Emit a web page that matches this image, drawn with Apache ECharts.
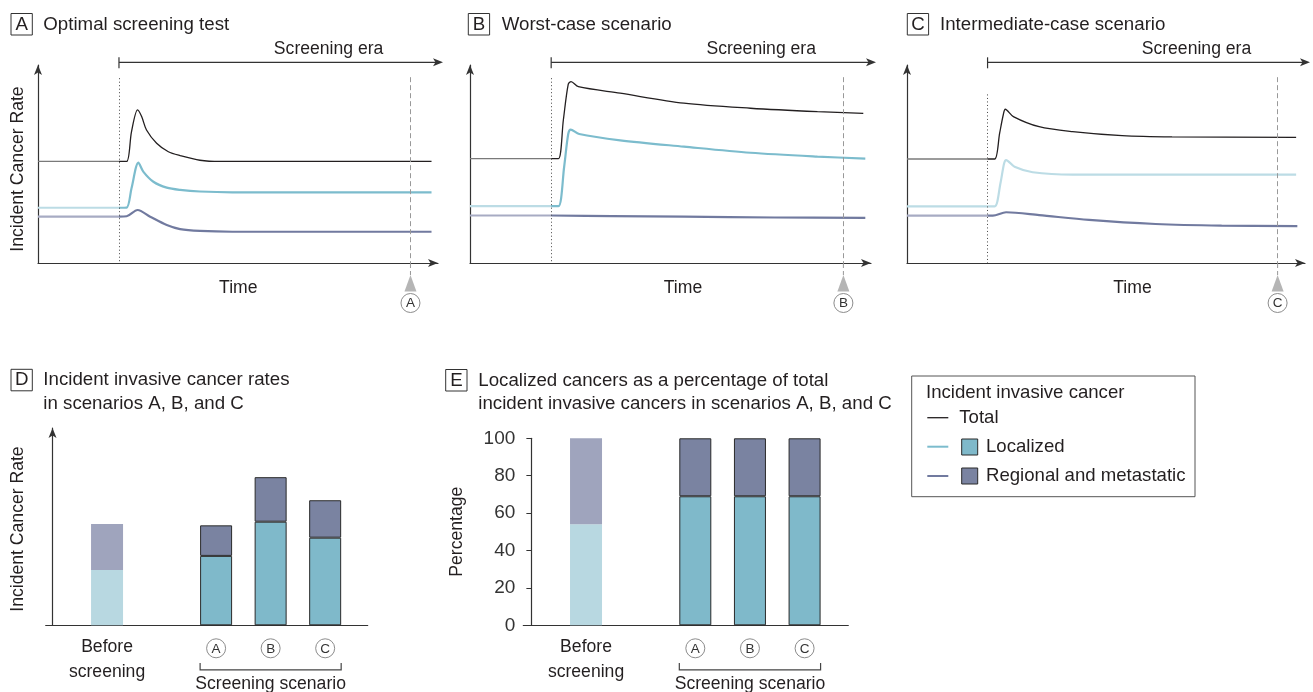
<!DOCTYPE html>
<html><head><meta charset="utf-8">
<script src="https://cdn.jsdelivr.net/npm/echarts@6/dist/echarts.min.js"></script>
<style>html,body{margin:0;padding:0;background:#fff}#c{width:1313px;height:692px}</style>
</head><body><div id="c"></div>
<script>
// ---------------- DATA ----------------
// Panels A-C: [time, incident rate] (arbitrary units)
const SCREEN_START = 20;   // start of screening era (time)
const REVIEW_TIME = 92;    // time at which scenarios are compared (dashed line)

const A_total = [[0,50],[20,50],[21.9,50],[23.1,64.7],[24.6,75.4],[25.6,72.1],[26.8,65.5],[29.3,59],[32.2,54.8],[35.1,52.9],[40,50.6],[45,50],[97.2,50]];
const A_localized = [[0,27.2],[20,27.2],[21.9,27.3],[23.1,36.8],[24.8,49.4],[26,45],[28.5,40],[31.8,37.1],[35.1,36],[40,35.2],[48,34.8],[97.2,34.8]];
const A_regional = [[0,22.8],[20,22.8],[21.9,23],[24.6,26.1],[27.7,22.8],[31.8,18.7],[35.1,16.7],[40,15.8],[48,15.4],[97.2,15.4]];

const B_total = [[0,51.4],[20,51.4],[21.8,51.4],[23,70.4],[24.2,88],[24.9,89.3],[26.7,86.8],[37,83.6],[52.7,78.7],[69.1,76.2],[85.6,74.5],[96.9,73.7]];
const B_localized = [[0,28],[20,28],[21.8,28],[23.2,47.4],[24.2,63.5],[24.8,65.7],[26.9,63.5],[37,60.4],[52.7,57.3],[69.1,54.3],[85.6,52.4],[97.4,51.4]];
const B_regional = [[0,23.4],[20,23.4],[35,23.1],[52.7,22.8],[75,22.4],[97.4,22.2]];

const C_total = [[0,51.2],[20,51.2],[21.8,51.2],[23,63.9],[23.9,73],[24.4,75.7],[26.4,72.1],[32.8,67.1],[41.1,64.7],[53.4,62.7],[65.8,62.1],[96.6,61.9]];
const C_localized = [[0,27.9],[20,27.9],[21.8,27.9],[23.2,39.3],[24.1,49],[24.6,50.7],[26.7,47.4],[31.2,44.7],[41.1,43.5],[96.6,43.5]];
const C_regional = [[0,23.3],[20,23.3],[21.3,23.3],[24.6,25],[32.8,23.6],[45.2,21.2],[61.7,19.2],[78.1,18.4],[96.9,18.2]];

// Panels D-E
const barPositions = [1, 3, 4, 5];
const barCategories = ['Before\nscreening', 'A', 'B', 'C'];
const D_localized = [27.3, 34.3, 51.2, 43.3];
const D_regional = [22.8, 15.1, 22.0, 18.5];
const E_localized = [54, 69, 69, 69];
const E_regional = [46, 31, 31, 31];
const E_ticks = [0, 20, 40, 60, 80, 100];

// ---------------- STYLE / LAYOUT ----------------
const FONT = "'Liberation Sans', Arial, sans-serif";
const TXT = '#231f20';
const FS = 17.6, FS_TITLE = 18.7, FS_LEGEND = 18.6;
const COL = {
  tot: '#231f20', totPre: '#7a7a7a',
  loc: '#7cbccd', locPre: '#bcdce5',
  reg: '#717a9f', regPre: '#a7abc3',
  locBar: '#7fb9ca', regBar: '#7a83a1', locBarPre: '#b8d8e1', regBarPre: '#9fa4bd',
  border: '#2a2a2a', axis: '#333'
};
const GRIDS = [
  {left:38, top:65, width:400, height:198},
  {left:470, top:65, width:401, height:198},
  {left:907, top:65, width:398, height:198},
  {left:45.7, top:428, width:322, height:197.3},
  {left:523.3, top:438.3, width:325, height:187}
];
const LINE_XMAX = 98.8, LINE_YMAX = 97.5;

const arrowAxisLine = {show:true, lineStyle:{color:COL.axis, width:1.2}, symbol:['none','arrow'], symbolSize:[6,10]};
const plainAxisLine = {show:true, lineStyle:{color:COL.axis, width:1.2}};
const hidden = {axisTick:{show:false}, axisLabel:{show:false}, splitLine:{show:false}};

const xAxes = [], yAxes = [];
for (let g = 0; g < 3; g++) {
  xAxes.push(Object.assign({type:'value', gridIndex:g, min:0, max:LINE_XMAX, axisLine:arrowAxisLine}, hidden));
  yAxes.push(Object.assign({type:'value', gridIndex:g, min:0, max:LINE_YMAX, axisLine:arrowAxisLine}, hidden));
}
xAxes.push(Object.assign({type:'value', gridIndex:3, min:-0.125, max:5.78, axisLine:plainAxisLine}, hidden));
yAxes.push(Object.assign({type:'value', gridIndex:3, min:0, max:97.5, axisLine:arrowAxisLine}, hidden));
xAxes.push(Object.assign({type:'value', gridIndex:4, min:-0.148, max:5.80, axisLine:plainAxisLine}, hidden));
yAxes.push({type:'value', gridIndex:4, min:E_ticks[0], max:E_ticks[E_ticks.length - 1], interval:E_ticks[1] - E_ticks[0],
  axisLine:plainAxisLine, axisTick:{show:true, length:5, lineStyle:{color:COL.axis}}, splitLine:{show:false},
  axisLabel:{show:true, margin:8, color:'#333', fontSize:19, fontFamily:FONT}});

function linePanel(g, total, loc, reg, locPostColor) {
  const pre = a => a.filter(p => p[0] <= SCREEN_START);
  const post = a => a.filter(p => p[0] >= SCREEN_START);
  const base = {type:'line', xAxisIndex:g, yAxisIndex:g, showSymbol:false, symbol:'none', smooth:0.3,
    silent:true, animation:false, clip:false, z:3};
  const mk = (data, color, width, extra) => Object.assign({}, base, {data, lineStyle:{color, width}}, extra || {});
  const dottedTop = g === 2 ? 83 : 91;
  const markLine = {silent:true, symbol:['none','none'], label:{show:false}, animation:false,
    data:[
      [{coord:[SCREEN_START, dottedTop], lineStyle:{type:[1,2.5], color:'#444', width:1}}, {coord:[SCREEN_START, 0]}],
      [{coord:[REVIEW_TIME, 91.5], lineStyle:{type:[5,3], color:'#999', width:1}}, {coord:[REVIEW_TIME, 0]}]
    ]};
  return [
    mk(pre(reg), COL.regPre, 2.2), mk(post(reg), COL.reg, 2.2),
    mk(pre(loc), COL.locPre, 2.2), mk(post(loc), locPostColor, 2.2),
    mk(pre(total), COL.totPre, 1.3), mk(post(total), COL.tot, 1.3, {markLine})
  ];
}

function barSeries(g, loc, reg, stack) {
  // value first, position second, so the stack is computed on the value dimension
  const mkData = (vals, preColor) => barPositions.map((x, i) => ({
    value:[vals[i], x],
    itemStyle: i === 0 ? {color:preColor, borderWidth:0} : undefined
  }));
  const base = {type:'bar', xAxisIndex:g, yAxisIndex:g, stack, barWidth:32, silent:true, animation:false,
    encode:{x:1, y:0}};
  return [
    Object.assign({}, base, {data:mkData(loc, COL.locBarPre), itemStyle:{color:COL.locBar, borderColor:COL.border, borderWidth:1}}),
    Object.assign({}, base, {data:mkData(reg, COL.regBarPre), itemStyle:{color:COL.regBar, borderColor:COL.border, borderWidth:1}})
  ];
}

const option = {
  animation:false,
  backgroundColor:'#fff',
  grid: GRIDS.map(g => Object.assign({outerBoundsMode:'none', containLabel:false}, g)),
  xAxis: xAxes, yAxis: yAxes,
  series: [].concat(
    linePanel(0, A_total, A_localized, A_regional, COL.loc),
    linePanel(1, B_total, B_localized, B_regional, COL.loc),
    linePanel(2, C_total, C_localized, C_regional, COL.locPre),
    barSeries(3, D_localized, D_regional, 'd'),
    barSeries(4, E_localized, E_regional, 'e')
  )
};

const chart = echarts.init(document.getElementById('c'));
chart.setOption(option);

// ---------------- ANNOTATIONS ----------------
const P = (g, v) => chart.convertToPixel({gridIndex:g}, v);
const gfx = [];
function txt(x, y, t, o) {
  o = o || {};
  gfx.push({type:'text', x, y, rotation:o.rot || 0, silent:true, z:10,
    style:{text:t, fill:o.color || TXT, fontSize:o.size || FS, fontFamily:FONT,
      align:o.align || 'left', verticalAlign:'middle', lineHeight:o.lh}});
}
function rect(x, y, w, h, o) {
  gfx.push({type:'rect', silent:true, z:10, shape:{x, y, width:w, height:h},
    style:Object.assign({fill:'none', stroke:'#333', lineWidth:1}, o || {})});
}
function line(x1, y1, x2, y2, o) {
  gfx.push({type:'line', silent:true, z:10, shape:{x1, y1, x2, y2},
    style:Object.assign({stroke:'#333', lineWidth:1.2}, o || {})});
}
function poly(points, fill) {
  gfx.push({type:'polygon', silent:true, z:10, shape:{points}, style:{fill}});
}
function circled(x, y, letter) {
  gfx.push({type:'circle', silent:true, z:10, shape:{cx:x, cy:y, r:9.5}, style:{fill:'#fff', stroke:'#8c8c8c', lineWidth:1}});
  txt(x, y + 0.5, letter, {align:'center', size:13.5, color:'#333'});
}
function titleBox(x, y, letter, lines, tx) {
  rect(x, y, 21.3, 21.5, {stroke:'#333'});
  txt(x + 10.7, y + 11, letter, {align:'center', size:FS_TITLE});
  lines.forEach((l, i) => txt(tx, y + 11 + i * 23.3, l, {size:FS_TITLE}));
}

titleBox(11, 13.5, 'A', ['Optimal screening test'], 43.3);
titleBox(468.3, 13.5, 'B', ['Worst-case scenario'], 501.7);
titleBox(907.3, 13.5, 'C', ['Intermediate-case scenario'], 940);
titleBox(11, 369.3, 'D', ['Incident invasive cancer rates', 'in scenarios A, B, and C'], 43.3);
titleBox(445.7, 369.5, 'E', ['Localized cancers as a percentage of total', 'incident invasive cancers in scenarios A, B, and C'], 478.3);

const timeLabelX = [238.3, 683, 1132.5];
const scenarioLetters = ['A', 'B', 'C'];
for (let g = 0; g < 3; g++) {
  const gr = GRIDS[g];
  const sx = P(g, [SCREEN_START, 0])[0];
  const ex = gr.left + gr.width + 5;
  const ay = 62.3;
  line(sx, ay, ex - 6, ay, {lineWidth:1.2});
  line(sx, ay - 5, sx, ay + 6, {lineWidth:1.2});
  poly([[ex, ay], [ex - 10, ay - 4], [ex - 7.5, ay], [ex - 10, ay + 4]], '#333');
  txt(sx + 0.478 * (ex - sx), 49, 'Screening era');
  txt(timeLabelX[g], 288, 'Time', {align:'center'});
  const rx = P(g, [REVIEW_TIME, 0])[0];
  line(rx, 263, rx, 275, {stroke:'#999', lineWidth:1, lineDash:[5, 3]});
  poly([[rx - 6, 291.5], [rx + 6, 291.5], [rx, 275]], '#b5b5b5');
  circled(rx, 303, scenarioLetters[g]);
}
txt(18.3, 169, 'Incident Cancer Rate', {align:'center', rot:Math.PI / 2});
txt(18.3, 529, 'Incident Cancer Rate', {align:'center', rot:Math.PI / 2});
txt(456.7, 531.7, 'Percentage', {align:'center', rot:Math.PI / 2});

[3, 4].forEach(g => {
  barPositions.forEach((x, i) => {
    const px = P(g, [x, 0])[0];
    if (i === 0) txt(px, 659.5, barCategories[i], {align:'center', lh:24.4});
    else circled(px, 648.3, barCategories[i]);
  });
  const l = P(g, [barPositions[1], 0])[0] - 16, r = P(g, [barPositions[3], 0])[0] + 16;
  gfx.push({type:'polyline', silent:true, z:10, shape:{points:[[l, 663], [l, 669.8], [r, 669.8], [r, 663]]},
    style:{stroke:'#444', lineWidth:1.2, fill:'none'}});
  txt((l + r) / 2, 684.5, 'Screening scenario', {align:'center'});
});

// legend
rect(911.7, 376, 283.3, 120.7, {stroke:'#555'});
txt(926, 393.3, 'Incident invasive cancer', {size:FS_LEGEND});
line(927.3, 417.7, 948.3, 417.7, {stroke:COL.tot, lineWidth:1.3});
txt(959.3, 418, 'Total', {size:FS_LEGEND});
line(927.3, 446.7, 948.3, 446.7, {stroke:COL.loc, lineWidth:2});
rect(961.7, 439, 16, 16, {fill:COL.locBar, stroke:COL.border, lineWidth:1});
txt(986, 447, 'Localized', {size:FS_LEGEND});
line(927.3, 476, 948.3, 476, {stroke:COL.reg, lineWidth:2});
rect(961.7, 468, 16, 16, {fill:COL.regBar, stroke:COL.border, lineWidth:1});
txt(986, 476, 'Regional and metastatic', {size:FS_LEGEND});

chart.setOption({graphic:{elements:gfx}});
</script></body></html>
